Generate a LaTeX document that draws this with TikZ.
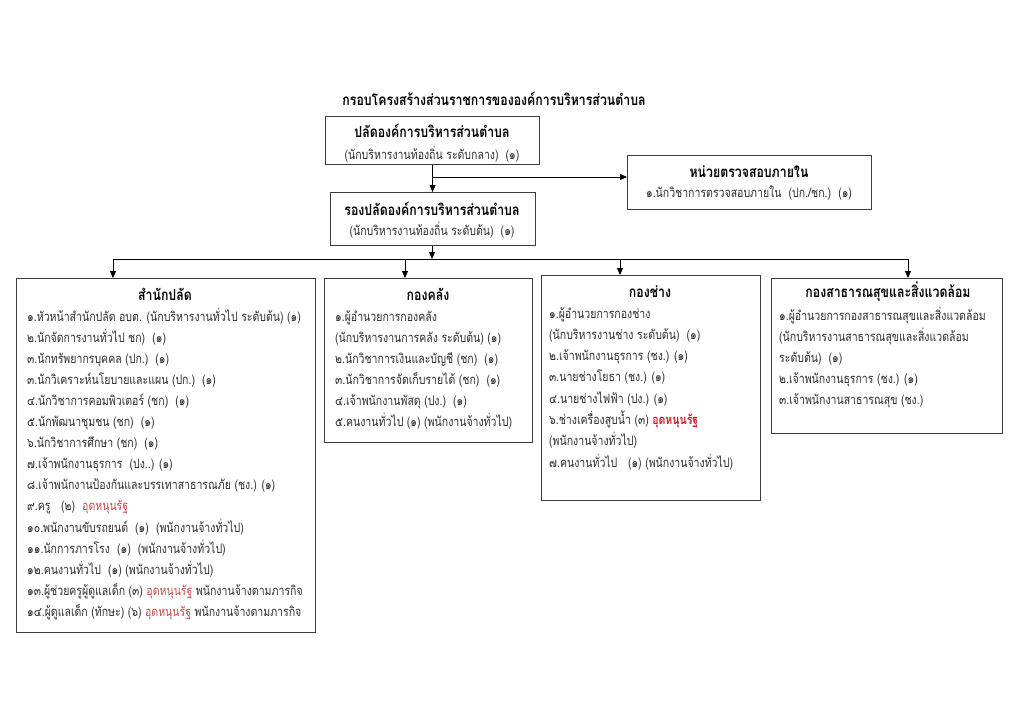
\documentclass[tikz,border=0pt]{standalone}
\usepackage{fontspec}
\newfontfamily\thai[Script=Thai,FakeStretch=0.81]{Loma}
\usetikzlibrary{arrows.meta}
\definecolor{txt}{RGB}{45,45,45}
\definecolor{boxc}{RGB}{60,60,60}
\definecolor{redA}{RGB}{192,80,77}
\definecolor{redB}{RGB}{200,30,40}
\newcommand{\rd}[1]{\textcolor{redA}{#1}}
\newcommand{\rdb}[1]{\textcolor{redB}{\bfseries #1}}
\begin{document}
\begin{tikzpicture}[x=1pt,y=-1pt,
  box/.style={draw=boxc, line width=1.1pt, inner sep=0pt, anchor=north west},
  item/.style={anchor=base west, inner sep=0pt, text=txt, font=\thai\fontsize{13}{15}\selectfont},
  sub/.style={anchor=base, inner sep=0pt, text=txt, font=\thai\fontsize{13}{15}\selectfont},
  head/.style={anchor=base, inner sep=0pt, text=black, font=\thai\bfseries\fontsize{15.2}{17}\selectfont},
  conn/.style={line width=0.9pt, draw=black},
  arr/.style={conn, -{Triangle[length=7pt,width=6pt]}}]
\useasboundingbox[fill=white] (0,0) rectangle (1024,724);

% title
\node[head] (title) at (494,105) {กรอบโครงสร้างส่วนราชการขององค์การบริหารส่วนตำบล};

% top boxes
\node[box, minimum width=214pt, minimum height=48pt] (p1) at (325,116) {};
\node[head] (p1a) at (432,137) {ปลัดองค์การบริหารส่วนตำบล};
\node[sub] (p1b) at (432,159) {(นักบริหารงานท้องถิ่น ระดับกลาง)\ \ (๑)};

\node[box, minimum width=244pt, minimum height=54pt] (ia) at (627,155) {};
\node[head] (iaa) at (749,177) {หน่วยตรวจสอบภายใน};
\node[sub] (iab) at (749,197) {๑.นักวิชาการตรวจสอบภายใน\ \ (ปก./ชก.)\ \ (๑)};

\node[box, minimum width=205pt, minimum height=53pt] (p2) at (330,192) {};
\node[head] (p2a) at (432,215) {รองปลัดองค์การบริหารส่วนตำบล};
\node[sub] (p2b) at (432,235) {(นักบริหารงานท้องถิ่น ระดับต้น)\ \ (๑)};

% department boxes
\node[box, minimum width=299pt, minimum height=354pt] (d1) at (16,278) {};
\node[box, minimum width=208pt, minimum height=164pt] (d2) at (324,278) {};
\node[box, minimum width=219pt, minimum height=225pt] (d3) at (541,275) {};
\node[box, minimum width=231pt, minimum height=155pt] (d4) at (771,278) {};

\node[head] (d1h) at (165,300) {สำนักปลัด};
\foreach \t [count=\i from 0] in {
  {๑.หัวหน้าสำนักปลัด อบต. (นักบริหารงานทั่วไป ระดับต้น) (๑)},
  {๒.นักจัดการงานทั่วไป ชก)\ \ (๑)},
  {๓.นักทรัพยากรบุคคล (ปก.)\ \ (๑)},
  {๓.นักวิเคราะห์นโยบายและแผน (ปก.)\ \ (๑)},
  {๔.นักวิชาการคอมพิวเตอร์ (ชก)\ \ (๑)},
  {๕.นักพัฒนาชุมชน (ชก)\ \ (๑)},
  {๖.นักวิชาการศึกษา (ชก)\ \ (๑)},
  {๗.เจ้าพนักงานธุรการ\ \ (ปง..) (๑)},
  {๘.เจ้าพนักงานป้องกันและบรรเทาสาธารณภัย (ชง.) (๑)},
  {๙.ครู\ \ \ (๒)\ \ \rd{อุดหนุนรัฐ}},
  {๑๐.พนักงานขับรถยนต์\ \ (๑)\ \ (พนักงานจ้างทั่วไป)},
  {๑๑.นักการภารโรง\ \ (๑)\ \ (พนักงานจ้างทั่วไป)},
  {๑๒.คนงานทั่วไป\ \ (๑) (พนักงานจ้างทั่วไป)},
  {๑๓.ผู้ช่วยครูผู้ดูแลเด็ก (๓) \rd{อุดหนุนรัฐ} พนักงานจ้างตามภารกิจ},
  {๑๔.ผู้ดูแลเด็ก (ทักษะ) (๖) \rd{อุดหนุนรัฐ} พนักงานจ้างตามภารกิจ}}
  \node[item] (d1i\i) at (27,{321+21.1*\i}) {\t};

\node[head] (d2h) at (428,300) {กองคลัง};
\foreach \t [count=\i from 0] in {
  {๑.ผู้อำนวยการกองคลัง},
  {(นักบริหารงานการคลัง ระดับต้น) (๑)},
  {๒.นักวิชาการเงินและบัญชี (ชก)\ \ (๑)},
  {๓.นักวิชาการจัดเก็บรายได้ (ชก)\ \ (๑)},
  {๔.เจ้าพนักงานพัสดุ (ปง.)\ \ (๑)},
  {๕.คนงานทั่วไป (๑) (พนักงานจ้างทั่วไป)}}
  \node[item] (d2i\i) at (335,{321+21.1*\i}) {\t};

\node[head] (d3h) at (650,297) {กองช่าง};
\foreach \t [count=\i from 0] in {
  {๑.ผู้อำนวยการกองช่าง},
  {(นักบริหารงานช่าง ระดับต้น)\ \ (๑)},
  {๒.เจ้าพนักงานธุรการ (ชง.) (๑)},
  {๓.นายช่างโยธา (ชง.) (๑)},
  {๔.นายช่างไฟฟ้า (ปง.) (๑)},
  {๖.ช่างเครื่องสูบน้ำ (๓) \rdb{อุดหนุนรัฐ}},
  {(พนักงานจ้างทั่วไป)},
  {๗.คนงานทั่วไป\ \ \ (๑) (พนักงานจ้างทั่วไป)}}
  \node[item] (d3i\i) at (549,{318+21.3*\i}) {\t};

\node[head] (d4h) at (888,297) {กองสาธารณสุขและสิ่งแวดล้อม};
\foreach \t [count=\i from 0] in {
  {๑.ผู้อำนวยการกองสาธารณสุขและสิ่งแวดล้อม},
  {(นักบริหารงานสาธารณสุขและสิ่งแวดล้อม},
  {ระดับต้น)\ \ (๑)},
  {๒.เจ้าพนักงานธุรการ (ชง.) (๑)},
  {๓.เจ้าพนักงานสาธารณสุข (ชง.)}}
  \node[item] (d4i\i) at (779,{320+21.1*\i}) {\t};

% connectors
\draw[arr] (p1.south) -- (p1.south |- p2.north);
\coordinate (br) at (432,177);
\draw[arr] (br) -- (br -| ia.west);
\coordinate (bs) at (432,259);
\draw[arr] (p2.south -| bs) -- (bs);
\coordinate (t1) at (113,259);
\coordinate (t2) at (405,259);
\coordinate (t3) at (620,259);
\coordinate (t4) at (908,259);
\draw[conn] (t1) -- (t4);
\draw[arr] (t1) -- (t1 |- d1.north);
\draw[arr] (t2) -- (t2 |- d2.north);
\draw[arr] (t3) -- (t3 |- d3.north);
\draw[arr] (t4) -- (t4 |- d4.north);
\end{tikzpicture}
\end{document}
